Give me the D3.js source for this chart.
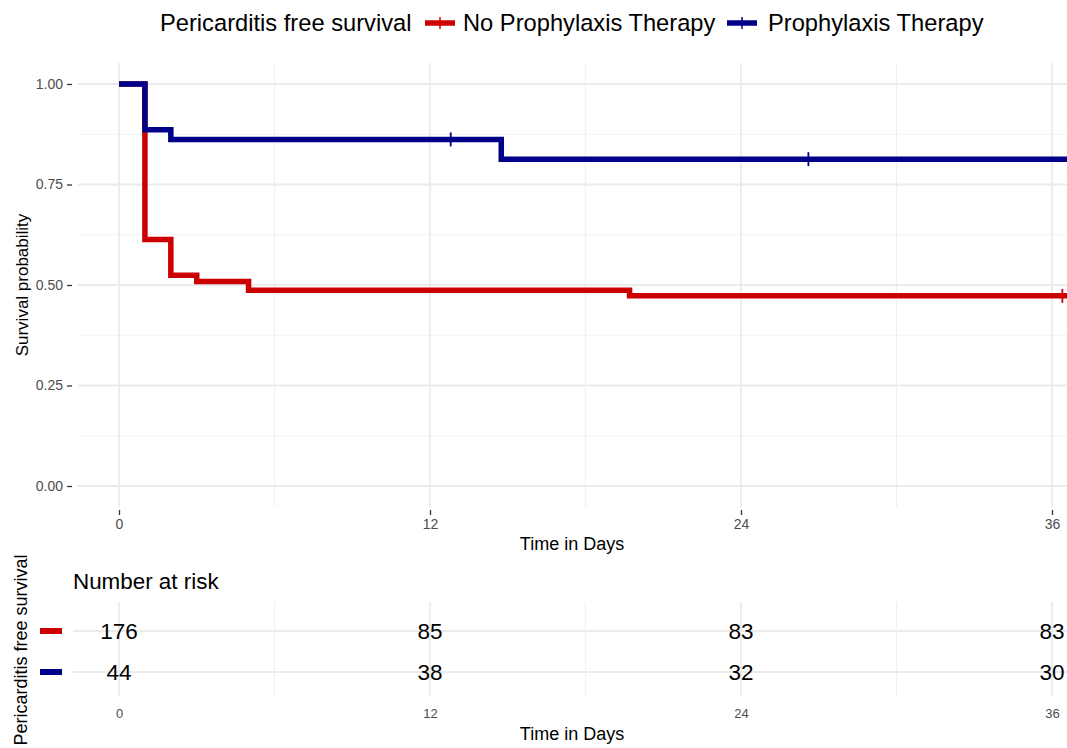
<!DOCTYPE html>
<html><head><meta charset="utf-8">
<script src="https://cdn.jsdelivr.net/npm/d3@7"></script>
<style>body{margin:0;background:#fff;} svg{display:block;font-family:"Liberation Sans",Arial,sans-serif;}</style>
</head><body>
<svg id="c" width="1067" height="748"></svg>
<script>
// ---- data ----
const groups = ["No Prophylaxis Therapy", "Prophylaxis Therapy"];
const colors = ["#CC0000", "#000088"];
const redTimes = [0, 1, 2, 3, 5, 19.7];
const redSurv  = [1.0, 0.613, 0.524, 0.509, 0.487, 0.473];
const redEnd = 37;
const redCensor = [36.4];
const blueTimes = [0, 1, 2, 14.75];
const blueSurv  = [1.0, 0.886, 0.862, 0.813];
const blueEnd = 37;
const blueCensor = [12.8, 26.6];
const xTicks = [0, 12, 24, 36];
const xMinor = [6, 18, 30];
const yTicks = [0, 0.25, 0.5, 0.75, 1.0];
const yMinor = [0.125, 0.375, 0.625, 0.875];
const riskTimes = [0, 12, 24, 36];
const riskRed = [176, 85, 83, 83];
const riskBlue = [44, 38, 32, 30];

const svg = d3.select("#c");
const W = 1067;
const x = d3.scaleLinear().domain([0, 36]).range([119, 1052]);
const y = d3.scaleLinear().domain([0, 1]).range([486, 84]);
const panelL = 78, panelT = 63, panelB = 507;

// grid
const grid = svg.append("g");
grid.selectAll(".hm").data(yMinor).join("line")
  .attr("x1", panelL).attr("x2", W).attr("y1", d => y(d)).attr("y2", d => y(d))
  .attr("stroke", "#F2F2F2").attr("stroke-width", 1.2);
grid.selectAll(".vm").data(xMinor).join("line")
  .attr("y1", panelT).attr("y2", panelB).attr("x1", d => x(d)).attr("x2", d => x(d))
  .attr("stroke", "#F0F0F0").attr("stroke-width", 1.2);
grid.selectAll(".hM").data(yTicks).join("line")
  .attr("x1", panelL).attr("x2", W).attr("y1", d => y(d)).attr("y2", d => y(d))
  .attr("stroke", "#EBEBEB").attr("stroke-width", 1.8);
grid.selectAll(".vM").data(xTicks).join("line")
  .attr("y1", panelT).attr("y2", panelB).attr("x1", d => x(d)).attr("x2", d => x(d))
  .attr("stroke", "#EBEBEB").attr("stroke-width", 1.8);

// axes
const yAxis = d3.axisLeft(y).tickValues(yTicks).tickFormat(d3.format(".2f")).tickSize(5).tickPadding(4);
const gy = svg.append("g").attr("transform", `translate(${panelL - 6},0)`).call(yAxis);
gy.select(".domain").remove();
gy.selectAll(".tick line").attr("stroke", "#333").attr("stroke-width", 1.3);
gy.selectAll(".tick text").attr("fill", "#4D4D4D").style("font-size", "14px");

const xAxis = d3.axisBottom(x).tickValues(xTicks).tickSize(5).tickPadding(4);
const gx = svg.append("g").attr("transform", `translate(0,${panelB + 3})`).call(xAxis);
gx.select(".domain").remove();
gx.selectAll(".tick line").attr("stroke", "#333").attr("stroke-width", 1.3);
gx.selectAll(".tick text").attr("fill", "#4D4D4D").style("font-size", "14px");

svg.append("text").attr("x", 572).attr("y", 550).attr("text-anchor", "middle")
  .style("font-size", "18px").attr("fill", "#000").text("Time in Days");
svg.append("text").attr("transform", "translate(28,285) rotate(-90)").attr("text-anchor", "middle")
  .style("font-size", "17px").attr("fill", "#000").text("Survival probability");

// curves
svg.append("clipPath").attr("id", "clip").append("rect")
  .attr("x", panelL).attr("y", panelT - 10).attr("width", W - panelL).attr("height", panelB - panelT + 20);
const cg = svg.append("g").attr("clip-path", "url(#clip)");
function stepData(ts, ss, end) {
  const pts = ts.map((t, i) => [t, ss[i]]);
  pts.push([end, ss[ss.length - 1]]);
  return pts;
}
const line = d3.line().x(d => x(d[0])).y(d => y(d[1])).curve(d3.curveStepAfter);
const curves = [
  {pts: stepData(redTimes, redSurv, redEnd), cens: redCensor, ts: redTimes, ss: redSurv, col: colors[0]},
  {pts: stepData(blueTimes, blueSurv, blueEnd), cens: blueCensor, ts: blueTimes, ss: blueSurv, col: colors[1]}
];
function survAt(ts, ss, t) { let v = ss[0]; ts.forEach((tt, i) => { if (tt <= t) v = ss[i]; }); return v; }
curves.forEach(c => {
  cg.append("path").datum(c.pts).attr("d", line).attr("fill", "none")
    .attr("stroke", c.col).attr("stroke-width", 5.5).attr("stroke-linejoin", "miter");
  cg.selectAll(null).data(c.cens).join("line")
    .attr("x1", d => x(d)).attr("x2", d => x(d))
    .attr("y1", d => y(survAt(c.ts, c.ss, d)) - 7).attr("y2", d => y(survAt(c.ts, c.ss, d)) + 7)
    .attr("stroke", c.col).attr("stroke-width", 1.8);
});

// legend
const lg = svg.append("g");
lg.append("text").attr("x", 160).attr("y", 31).style("font-size", "23.7px").text("Pericarditis free survival");
const keyX = [425, 727], txtX = [463, 768];
groups.forEach((g, i) => {
  lg.append("line").attr("x1", keyX[i]).attr("x2", keyX[i] + 30).attr("y1", 23).attr("y2", 23)
    .attr("stroke", colors[i]).attr("stroke-width", 5.5);
  lg.append("line").attr("x1", keyX[i] + 15).attr("x2", keyX[i] + 15).attr("y1", 17).attr("y2", 29)
    .attr("stroke", colors[i]).attr("stroke-width", 1.5);
  lg.append("text").attr("x", txtX[i]).attr("y", 31).style("font-size", "23.7px").text(g);
});

// risk table
const rowY = [631, 672];
const rt = svg.append("g");
rt.selectAll(".rh").data(rowY).join("line")
  .attr("x1", 73).attr("x2", W).attr("y1", d => d).attr("y2", d => d)
  .attr("stroke", "#EBEBEB").attr("stroke-width", 1.8);
rt.selectAll(".rvm").data(xMinor).join("line")
  .attr("x1", d => x(d)).attr("x2", d => x(d)).attr("y1", 602).attr("y2", 696)
  .attr("stroke", "#F0F0F0").attr("stroke-width", 1.2);
rt.selectAll(".rv").data(xTicks).join("line")
  .attr("x1", d => x(d)).attr("x2", d => x(d)).attr("y1", 602).attr("y2", 696)
  .attr("stroke", "#EBEBEB").attr("stroke-width", 1.8);
svg.append("text").attr("x", 73).attr("y", 589).style("font-size", "22.4px").text("Number at risk");
[riskRed, riskBlue].forEach((arr, i) => {
  rt.selectAll(null).data(riskTimes).join("text")
    .attr("x", d => x(d)).attr("y", rowY[i] + 8).attr("text-anchor", "middle")
    .style("font-size", "22.5px").attr("fill", "#000").text((d, j) => arr[j]);
  rt.append("line").attr("x1", 40).attr("x2", 62).attr("y1", rowY[i]).attr("y2", rowY[i])
    .attr("stroke", colors[i]).attr("stroke-width", 6);
});
const rx = d3.axisBottom(x).tickValues(xTicks).tickSize(0).tickPadding(0);
const grx = svg.append("g").attr("transform", "translate(0,709)").call(rx);
grx.select(".domain").remove();
grx.selectAll(".tick text").attr("fill", "#4D4D4D").style("font-size", "13px");
svg.append("text").attr("x", 572).attr("y", 740).attr("text-anchor", "middle")
  .style("font-size", "18px").text("Time in Days");
svg.append("text").attr("transform", "translate(27,650) rotate(-90)").attr("text-anchor", "middle")
  .style("font-size", "18px").text("Pericarditis free survival");
</script>
</body></html>
